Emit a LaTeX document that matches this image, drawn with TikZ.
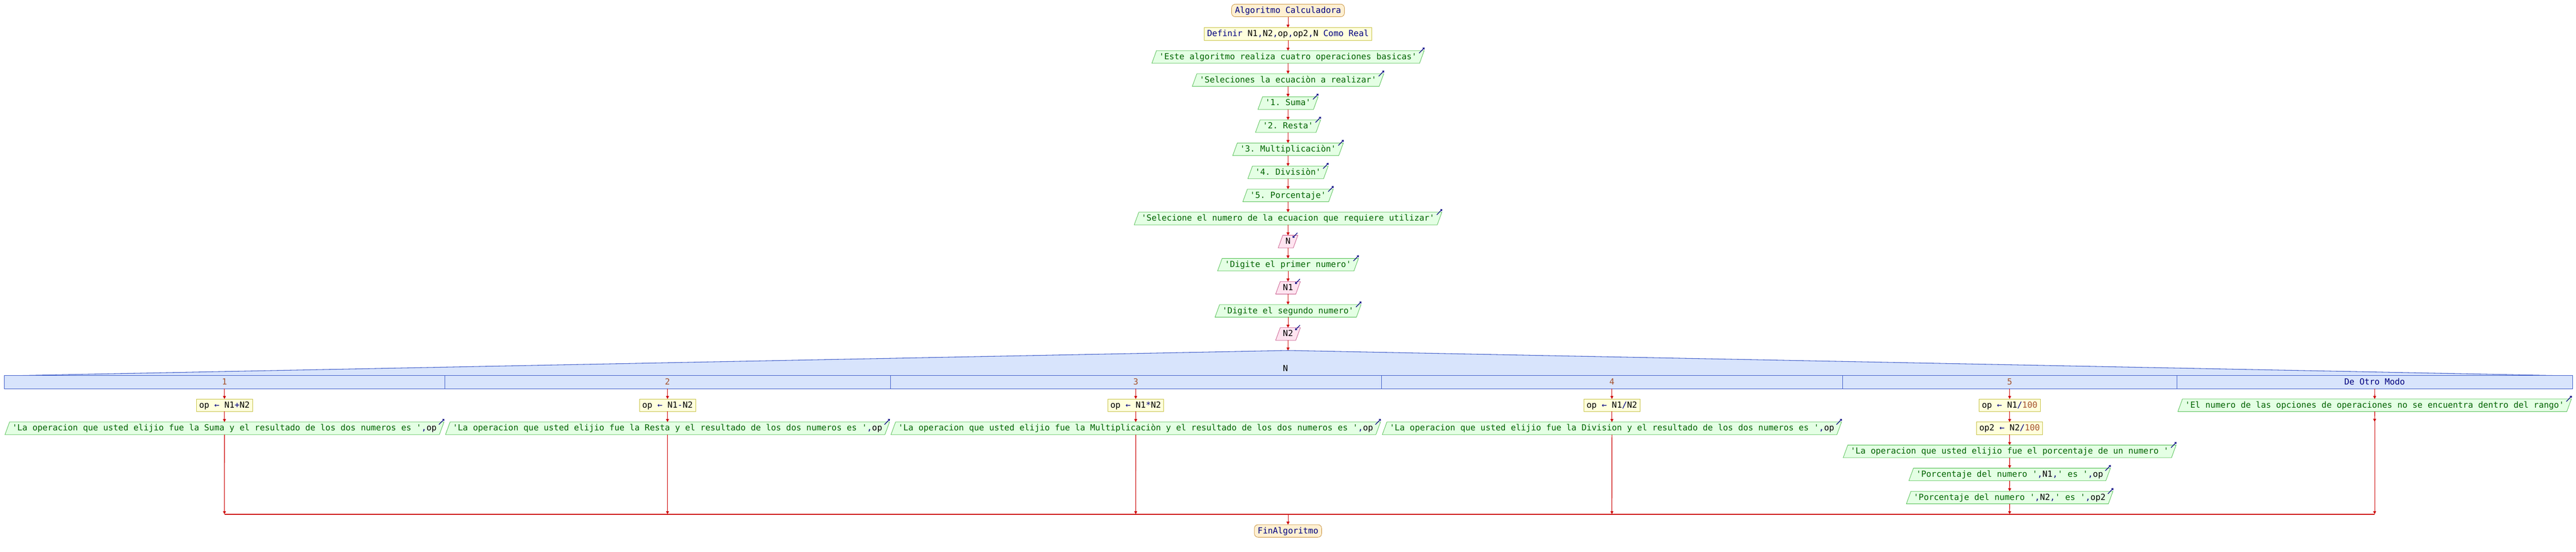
\documentclass[tikz,border=0pt]{standalone}
\usepackage{fontspec}
\setmonofont{DejaVu Sans Mono}
\usetikzlibrary{shapes.geometric,arrows.meta}
\definecolor{flowred}{RGB}{204,0,0}
\definecolor{kwblue}{RGB}{0,0,128}
\definecolor{strgreen}{RGB}{0,100,0}
\definecolor{numbrown}{RGB}{165,82,45}
\definecolor{termfill}{RGB}{255,240,210}
\definecolor{termline}{RGB}{200,145,60}
\definecolor{procfill}{RGB}{255,255,220}
\definecolor{procline}{RGB}{200,195,70}
\definecolor{outfill}{RGB}{228,255,228}
\definecolor{outborder}{RGB}{80,190,80}
\definecolor{infill}{RGB}{255,228,240}
\definecolor{inborder}{RGB}{200,90,140}
\definecolor{casefill}{RGB}{216,228,252}
\definecolor{caseline}{RGB}{60,90,200}
\newcommand{\pkw}[1]{\textcolor{kwblue}{#1}}
\newcommand{\pst}[1]{\textcolor{strgreen}{#1}}
\newcommand{\pnb}[1]{\textcolor{numbrown}{#1}}
\begin{document}
\begin{tikzpicture}[x=10pt,y=10pt]
\tikzstyle{every node}+=[font=\ttfamily\fontsize{20}{24}\selectfont,inner ysep=5pt,inner xsep=6.5pt,text height=16pt,text depth=4pt,outer sep=0pt,line width=1pt]
\tikzstyle{term}=[draw=termline,fill=termfill,rounded corners=9pt,inner xsep=8pt,text=kwblue]
\tikzstyle{proc}=[draw=procline,fill=procfill]
\tikzstyle{outbox}=[trapezium,trapezium left angle=70,trapezium right angle=110,draw=outborder,fill=outfill]
\tikzstyle{inbox}=[trapezium,trapezium left angle=70,trapezium right angle=110,draw=inborder,fill=infill]
\tikzstyle{caselabel}=[text=numbrown]
\tikzstyle{flow}=[draw=flowred,line width=1.3pt,-{Triangle[width=7pt,length=7pt]}]
\tikzstyle{icon}=[draw=kwblue,line width=1.5pt,-{Straight Barb[length=3pt,width=5pt]}]
\useasboundingbox (0,0) rectangle (614,-131.5);
% main column
\node[term] (start) at (307,-2.5) {Algoritmo Calculadora};
\node[proc] (def) at (307,-8.07) {\pkw{Definir} N1\pkw{,}N2\pkw{,}op\pkw{,}op2\pkw{,}N \pkw{Como Real}};
\node[outbox] (e1) at (307,-13.57) {\pst{'Este algoritmo realiza cuatro operaciones basicas'}};
\node[outbox] (e2) at (307,-19.07) {\pst{'Seleciones la ecuaciòn a realizar'}};
\node[outbox] (e3) at (307,-24.57) {\pst{'1. Suma'}};
\node[outbox] (e4) at (307,-30.07) {\pst{'2. Resta'}};
\node[outbox] (e5) at (307,-35.57) {\pst{'3. Multiplicaciòn'}};
\node[outbox] (e6) at (307,-41.07) {\pst{'4. Divisiòn'}};
\node[outbox] (e7) at (307,-46.57) {\pst{'5. Porcentaje'}};
\node[outbox] (e8) at (307,-52.07) {\pst{'Selecione el numero de la ecuacion que requiere utilizar'}};
\node[inbox] (r1) at (307,-57.57) {N};
\node[outbox] (e9) at (307,-63.07) {\pst{'Digite el primer numero'}};
\node[inbox] (r2) at (307,-68.57) {N1};
\node[outbox] (e10) at (307,-74.07) {\pst{'Digite el segundo numero'}};
\node[inbox] (r3) at (307,-79.57) {N2};
\draw[flow] (start) -- (def);
\draw[flow] (def) -- (e1);
\draw[flow] (e1) -- (e2);
\draw[flow] (e2) -- (e3);
\draw[flow] (e3) -- (e4);
\draw[flow] (e4) -- (e5);
\draw[flow] (e5) -- (e6);
\draw[flow] (e6) -- (e7);
\draw[flow] (e7) -- (e8);
\draw[flow] (e8) -- (r1);
\draw[flow] (r1) -- (e9);
\draw[flow] (e9) -- (r2);
\draw[flow] (r2) -- (e10);
\draw[flow] (e10) -- (r3);
% switch on N
\coordinate (top) at (307,-83.5);
\filldraw[fill=casefill,draw=caseline,line width=1.3pt] (3.5,-89.5) -- (top) -- (610.3,-89.5) -- cycle;
\filldraw[fill=casefill,draw=caseline,line width=1.3pt] (1.05,-89.5) rectangle (613.2,-92.6);
\foreach \x in {106,212.2,329.2,439.1,518.9}
  \draw[caseline,line width=0.6pt] (\x,-89.5) -- (\x,-92.6);
\node (cond) at (306.4,-87.9) {N};
\node[caselabel] (k1) at (53.5,-91.05) {1};
\node[caselabel] (k2) at (159.1,-91.05) {2};
\node[caselabel] (k3) at (270.7,-91.05) {3};
\node[caselabel] (k4) at (384.2,-91.05) {4};
\node[caselabel] (k5) at (479.0,-91.05) {5};
\node[text=kwblue] (k6) at (566.0,-91.05) {De Otro Modo};
\draw[flow] (r3) -- (top);
\coordinate (b1) at (53.5,-92.6);
\coordinate (b2) at (159.1,-92.6);
\coordinate (b3) at (270.7,-92.6);
\coordinate (b4) at (384.2,-92.6);
\coordinate (b5) at (479.0,-92.6);
\coordinate (b6) at (566.0,-92.6);
% branches
\node[proc] (a1) at (53.5,-96.55) {op \pkw{←} N1\pkw{+}N2};
\node[outbox] (w1) at (53.5,-102.05) {\pst{'La operacion que usted elijio fue la Suma y el resultado de los dos numeros es '}\pkw{,}op};
\node[proc] (a2) at (159.1,-96.55) {op \pkw{←} N1\pkw{-}N2};
\node[outbox] (w2) at (159.1,-102.05) {\pst{'La operacion que usted elijio fue la Resta y el resultado de los dos numeros es '}\pkw{,}op};
\node[proc] (a3) at (270.7,-96.55) {op \pkw{←} N1\pkw{*}N2};
\node[outbox] (w3) at (270.7,-102.05) {\pst{'La operacion que usted elijio fue la Multiplicaciòn y el resultado de los dos numeros es '}\pkw{,}op};
\node[proc] (a4) at (384.2,-96.55) {op \pkw{←} N1\pkw{/}N2};
\node[outbox] (w4) at (384.2,-102.05) {\pst{'La operacion que usted elijio fue la Division y el resultado de los dos numeros es '}\pkw{,}op};
\node[proc] (a5) at (479.0,-96.55) {op \pkw{←} N1\pkw{/}\pnb{100}};
\node[proc] (c5) at (479.0,-102.05) {op2 \pkw{←} N2\pkw{/}\pnb{100}};
\node[outbox] (w5) at (479.0,-107.55) {\pst{'La operacion que usted elijio fue el porcentaje de un numero '}};
\node[outbox] (u5) at (479.0,-113.05) {\pst{'Porcentaje del numero '}\pkw{,}N1\pkw{,}\pst{' es '}\pkw{,}op};
\node[outbox] (v5) at (479.0,-118.55) {\pst{'Porcentaje del numero '}\pkw{,}N2\pkw{,}\pst{' es '}\pkw{,}op2};
\node[outbox] (w6) at (566.0,-96.55) {\pst{'El numero de las opciones de operaciones no se encuentra dentro del rango'}};
\coordinate (g6) at (566.0,-100.5);
\draw[flow] (b1) -- (a1);
\draw[flow] (a1) -- (w1);
\draw[flow] (b2) -- (a2);
\draw[flow] (a2) -- (w2);
\draw[flow] (b3) -- (a3);
\draw[flow] (a3) -- (w3);
\draw[flow] (b4) -- (a4);
\draw[flow] (a4) -- (w4);
\draw[flow] (b5) -- (a5);
\draw[flow] (a5) -- (c5);
\draw[flow] (c5) -- (w5);
\draw[flow] (w5) -- (u5);
\draw[flow] (u5) -- (v5);
\draw[flow] (b6) -- (w6);
\draw[flow] (w6) -- (g6);
% join and end
\coordinate (m1) at (53.5,-122.5);
\coordinate (m2) at (159.1,-122.5);
\coordinate (m3) at (270.7,-122.5);
\coordinate (m4) at (384.2,-122.5);
\coordinate (m5) at (479.0,-122.5);
\coordinate (m6) at (566.0,-122.5);
\coordinate (mc) at (307,-122.5);
\node[term] (fin) at (307,-126.5) {FinAlgoritmo};
\draw[flowred,line width=2.5pt] (m1) -- (m6);
\draw[flow] (w1) -- (m1);
\draw[flow] (w2) -- (m2);
\draw[flow] (w3) -- (m3);
\draw[flow] (w4) -- (m4);
\draw[flow] (v5) -- (m5);
\draw[flow] (g6) -- (m6);
\draw[flow] (mc) -- (fin);
% write and read marks
\foreach \n in {e1,e2,e3,e4,e5,e6,e7,e8,e9,e10,w1,w2,w3,w4,w5,u5,v5,w6}
  \draw[icon] ([shift={(-1.2,-0.6)}]\n.top right corner) -- ([shift={(0.1,0.74)}]\n.top right corner);
\foreach \n in {r1,r2,r3}
  \draw[icon] ([shift={(-0.1,0.6)}]\n.top right corner) -- ([shift={(-1.25,-0.6)}]\n.top right corner);
\end{tikzpicture}
\end{document}
